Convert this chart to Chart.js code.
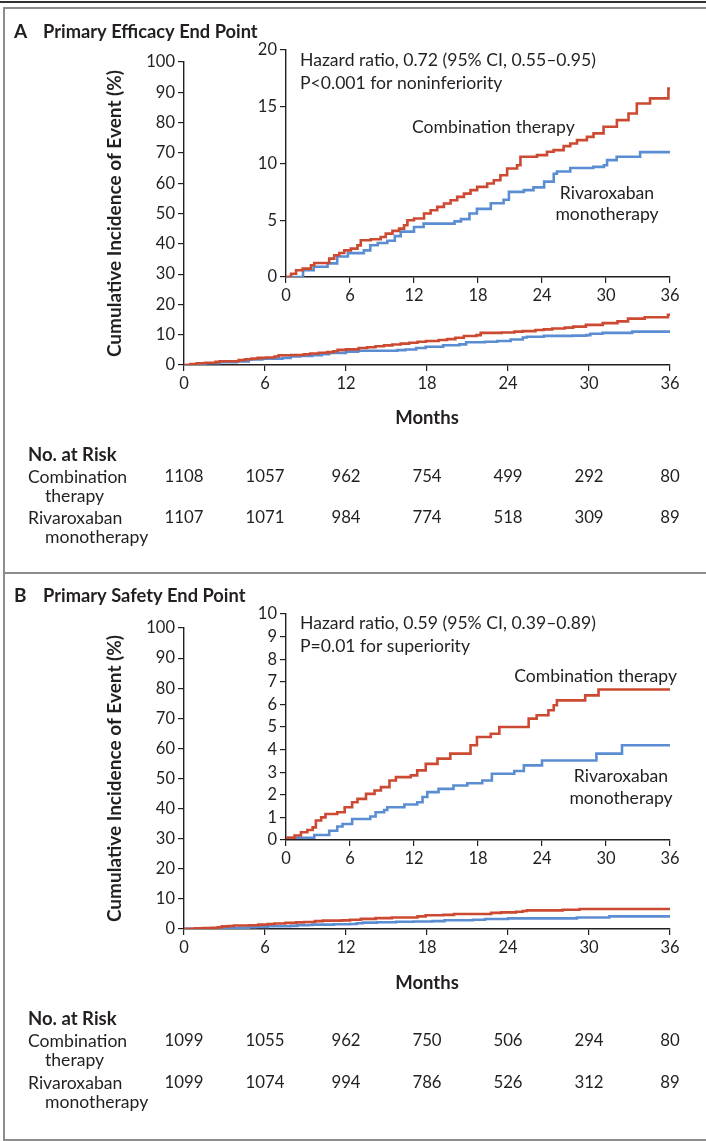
<!DOCTYPE html>
<html>
<head>
<meta charset="utf-8">
<script src="https://cdn.jsdelivr.net/npm/chart.js@4.4.1/dist/chart.umd.min.js"></script>
<style>
  body { margin: 0; background: #fff; }
  #page { position: relative; width: 706px; height: 1141px; overflow: hidden; }
  .rule { position: absolute; left: 0; top: 1px; width: 706px; height: 2px; background: #333; }
  .box { position: absolute; left: 3px; top: 7px; width: 703px; height: 1130px; border: 2px solid #8c8c8c; border-right: none; }
  .sep { position: absolute; left: 3px; top: 572px; width: 703px; height: 2px; background: #8c8c8c; }
  canvas { position: absolute; left: 0; }
</style>
</head>
<body>
<div id="page">
  <div class="rule"></div>
  <div class="box"></div>
  <div class="sep"></div>
  <canvas id="effMain" width="706" height="562" style="top:10px"></canvas>
  <canvas id="effInset" width="706" height="562" style="top:10px"></canvas>
  <canvas id="safMain" width="706" height="562" style="top:575px"></canvas>
  <canvas id="safInset" width="706" height="562" style="top:575px"></canvas>
</div>
<script>
// x axis ticks (months) shared by all four plots and the risk tables
const monthTicks = [0, 6, 12, 18, 24, 30, 36];

// Panel A - primary efficacy end point (cumulative incidence, %)
const effComboMonths = [0, 0.47, 0.94, 1.56, 2.34, 2.65, 4.05, 4.52, 4.99, 5.46, 6.08, 6.7, 7.01, 7.95, 8.88, 9.35, 9.98, 10.6, 11.07, 11.38, 12.0, 12.94, 13.56, 14.18, 14.81, 15.43, 16.05, 16.68, 17.3, 17.92, 18.86, 19.48, 20.1, 20.73, 21.66, 21.98, 23.53, 24.47, 25.09, 26.03, 26.65, 27.28, 28.21, 28.83, 29.77, 31.02, 32.11, 32.89, 34.13, 35.85, 36];
const effComboPct = [0, 0.29, 0.59, 0.74, 1.03, 1.24, 1.62, 1.91, 2.12, 2.35, 2.5, 2.79, 3.24, 3.32, 3.53, 3.82, 4.06, 4.26, 4.56, 5.0, 5.15, 5.59, 5.88, 6.18, 6.47, 6.76, 7.06, 7.35, 7.65, 7.94, 8.24, 8.53, 8.97, 9.56, 9.85, 10.59, 10.74, 11.03, 11.18, 11.53, 11.76, 12.06, 12.35, 12.65, 13.24, 13.82, 14.41, 15.29, 15.74, 16.6, 16.6];
const effRivaMonths = [0, 1.6, 2.6, 3.9, 4.8, 5.8, 7.3, 7.9, 8.6, 9.5, 10.2, 10.75, 12.0, 12.9, 15.8, 16.4, 17.2, 17.9, 19.2, 20.4, 20.9, 22.3, 23.2, 24.2, 25.1, 25.4, 26.65, 28.8, 29.8, 30.1, 31.0, 33.2, 36];
const effRivaPct = [0, 0.6, 0.9, 1.2, 1.8, 2.1, 2.35, 2.8, 3.0, 3.2, 3.6, 4.0, 4.4, 4.7, 4.9, 5.1, 5.6, 6.0, 6.5, 6.8, 7.5, 7.65, 7.9, 8.4, 9.1, 9.3, 9.6, 9.7, 9.85, 10.3, 10.6, 11.0, 11.0];
const effRiskCombo = [1108, 1057, 962, 754, 499, 292, 80];
const effRiskRiva = [1107, 1071, 984, 774, 518, 309, 89];

// Panel B - primary safety end point
const safComboMonths = [0, 0.8, 1.4, 2.0, 2.5, 2.8, 3.3, 3.7, 4.8, 5.5, 6.2, 6.7, 7.5, 8.3, 8.9, 9.7, 10.3, 11.7, 12.3, 13.1, 14.2, 15.4, 17.3, 17.9, 19.2, 20.0, 22.75, 23.5, 24.6, 25.1, 25.4, 28.05, 29.3, 36];
const safComboPct = [0.1, 0.2, 0.34, 0.44, 0.56, 0.86, 1.0, 1.15, 1.23, 1.45, 1.67, 1.82, 2.04, 2.19, 2.34, 2.63, 2.78, 2.86, 3.08, 3.37, 3.6, 3.82, 4.19, 4.56, 4.7, 5.0, 5.37, 5.52, 5.74, 5.96, 6.18, 6.4, 6.66, 6.66];
const safRivaMonths = [0, 2.65, 4.05, 4.8, 5.3, 6.2, 7.9, 8.4, 9.2, 9.5, 11.1, 12.3, 12.8, 13.25, 14.3, 15.7, 17.0, 18.4, 19.3, 21.4, 22.3, 24.0, 29.1, 31.5, 36];
const safRivaPct = [0.1, 0.22, 0.41, 0.6, 0.71, 0.93, 1.04, 1.23, 1.33, 1.45, 1.57, 1.67, 1.9, 2.12, 2.26, 2.41, 2.51, 2.63, 2.93, 3.05, 3.3, 3.52, 3.82, 4.19, 4.19];
const safRiskCombo = [1099, 1055, 962, 750, 506, 294, 80];
const safRiskRiva = [1099, 1074, 994, 786, 526, 312, 89];

const RED = '#cb4a31';
const BLUE = '#5b8dd3';
const INK = '#231f20';
const W = 706, H = 562;
const FONT = 'Lato, sans-serif';

Chart.defaults.font.family = FONT;
Chart.defaults.font.size = 16;
Chart.defaults.color = INK;

const toPoints = (months, pct) => months.map((m, i) => ({ x: m, y: pct[i] }));

// free text (panel titles, hazard ratio notes, curve labels)
const textNotes = {
    id: 'textNotes',
    afterDraw(chart, args, opts) {
        const ctx = chart.ctx;
        ctx.save();
        ctx.fillStyle = INK;
        ctx.textBaseline = 'middle';
        for (const n of opts.items || []) {
            ctx.font = n.font || ('17.6px ' + FONT);
            ctx.textAlign = n.align || 'left';
            ctx.fillText(n.text, n.x, n.y);
        }
        ctx.restore();
    }
};

// number-at-risk table under the main x axis
const riskTable = {
    id: 'riskTable',
    afterDraw(chart, args, opts) {
        if (!opts.rows) return;
        const ctx = chart.ctx;
        const xScale = chart.scales.x;
        ctx.save();
        ctx.fillStyle = INK;
        ctx.textBaseline = 'middle';
        ctx.textAlign = 'left';
        ctx.font = 'bold 18.5px ' + FONT;
        ctx.fillText('No. at Risk', 28, opts.top);
        for (const row of opts.rows) {
            ctx.font = '17.6px ' + FONT;
            ctx.textAlign = 'left';
            ctx.fillText(row.label[0], 28, row.y);
            ctx.fillText(row.label[1], 45, row.y + 19);
            ctx.font = '16.8px ' + FONT;
            ctx.textAlign = 'center';
            row.counts.forEach((n, i) => {
                ctx.fillText(String(n), xScale.getPixelForValue(monthTicks[i]), row.y);
            });
        }
        ctx.restore();
    }
};

const makeScales = (area, yMax, yStep, withTitles) => ({
    x: {
        type: 'linear', min: 0, max: 36,
        ticks: { stepSize: 6, padding: 3, autoSkip: false, font: { size: 16.5 } },
        grid: { drawOnChartArea: false, tickLength: 6, color: INK, lineWidth: 1.2 },
        border: { color: INK, width: 1.4 },
        title: withTitles
            ? { display: true, text: 'Months', font: { weight: 'bold', size: 18.5 }, padding: { top: 0, bottom: 143 } }
            : { display: false },
        afterFit: s => { s.height = H - area.bottom; }
    },
    y: {
        type: 'linear', min: 0, max: yMax,
        ticks: { stepSize: yStep, padding: 3, autoSkip: false, font: { size: 16.5 } },
        grid: { drawOnChartArea: false, tickLength: 6, color: INK, lineWidth: 1.2 },
        border: { color: INK, width: 1.4 },
        title: withTitles
            ? { display: true, text: 'Cumulative Incidence of Event (%)', font: { weight: 'bold', size: 19 }, padding: { top: 103, bottom: 0 } }
            : { display: false },
        afterFit: s => { s.width = area.left; }
    }
});

const makeChart = (id, area, yMax, yStep, combo, riva, withTitles, pluginOpts) => {
    const ctx = document.getElementById(id).getContext('2d');
    return new Chart(ctx, {
        type: 'line',
        data: {
            datasets: [
                // 'before' = horizontal at the old level, then the jump at the event time
                { label: 'Combination therapy', data: combo, borderColor: RED, borderWidth: 2.6, stepped: 'before', pointRadius: 0 },
                { label: 'Rivaroxaban monotherapy', data: riva, borderColor: BLUE, borderWidth: 2.6, stepped: 'before', pointRadius: 0 }
            ]
        },
        options: {
            responsive: false,
            animation: false,
            events: [],
            layout: { padding: { left: 0, top: area.top, right: W - area.right, bottom: 0 } },
            scales: makeScales(area, yMax, yStep, withTitles),
            plugins: Object.assign({ legend: { display: false }, tooltip: { enabled: false } }, pluginOpts)
        },
        plugins: [textNotes, riskTable]
    });
};

const effCombo = toPoints(effComboMonths, effComboPct);
const effRiva = toPoints(effRivaMonths, effRivaPct);
const safCombo = toPoints(safComboMonths, safComboPct);
const safRiva = toPoints(safRivaMonths, safRivaPct);

// Panel A
makeChart('effMain', { left: 184, right: 670, top: 52, bottom: 355 }, 100, 10, effCombo, effRiva, true, {
    textNotes: { items: [
        { text: 'A', x: 14, y: 22, font: 'bold 19px ' + FONT },
        { text: 'Primary Efficacy End Point', x: 43, y: 22, font: 'bold 18.3px ' + FONT }
    ] },
    riskTable: { top: 445, rows: [
        { label: ['Combination', 'therapy'], y: 467, counts: effRiskCombo },
        { label: ['Rivaroxaban', 'monotherapy'], y: 508, counts: effRiskRiva }
    ] }
});
makeChart('effInset', { left: 286, right: 670, top: 40, bottom: 267 }, 20, 5, effCombo, effRiva, false, {
    textNotes: { items: [
        { text: 'Hazard ratio, 0.72 (95% CI, 0.55\u20130.95)', x: 300, y: 50 },
        { text: 'P<0.001 for noninferiority', x: 300, y: 73 },
        { text: 'Combination therapy', x: 412, y: 117 },
        { text: 'Rivaroxaban', x: 607, y: 183, align: 'center' },
        { text: 'monotherapy', x: 607, y: 204, align: 'center' }
    ] }
});

// Panel B
makeChart('safMain', { left: 184, right: 670, top: 53, bottom: 354 }, 100, 10, safCombo, safRiva, true, {
    textNotes: { items: [
        { text: 'B', x: 14, y: 21, font: 'bold 19px ' + FONT },
        { text: 'Primary Safety End Point', x: 43, y: 21, font: 'bold 18.3px ' + FONT }
    ] },
    riskTable: { top: 444, rows: [
        { label: ['Combination', 'therapy'], y: 466, counts: safRiskCombo },
        { label: ['Rivaroxaban', 'monotherapy'], y: 508, counts: safRiskRiva }
    ] }
});
makeChart('safInset', { left: 286, right: 670, top: 39, bottom: 265 }, 10, 1, safCombo, safRiva, false, {
    textNotes: { items: [
        { text: 'Hazard ratio, 0.59 (95% CI, 0.39\u20130.89)', x: 300, y: 48 },
        { text: 'P=0.01 for superiority', x: 300, y: 71 },
        { text: 'Combination therapy', x: 677, y: 101, align: 'right' },
        { text: 'Rivaroxaban', x: 621, y: 201, align: 'center' },
        { text: 'monotherapy', x: 621, y: 223, align: 'center' }
    ] }
});
</script>
</body>
</html>
